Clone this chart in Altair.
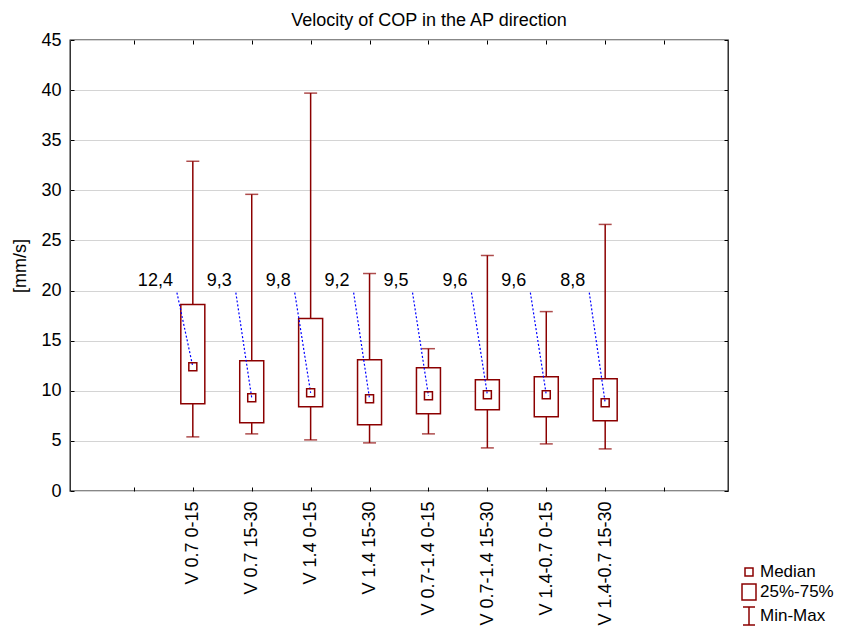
import altair as alt
import pandas as pd

# ---- data ----
categories = ["V 0.7 0-15", "V 0.7 15-30", "V 1.4 0-15", "V 1.4 15-30",
              "V 0.7-1.4 0-15", "V 0.7-1.4 15-30", "V 1.4-0.7 0-15", "V 1.4-0.7 15-30"]
medians = [12.4, 9.3, 9.8, 9.2, 9.5, 9.6, 9.6, 8.8]
q1 = [8.7, 6.8, 8.4, 6.6, 7.7, 8.1, 7.4, 7.0]
q3 = [18.6, 13.0, 17.2, 13.1, 12.3, 11.1, 11.4, 11.2]
mins = [5.4, 5.7, 5.1, 4.8, 5.7, 4.3, 4.7, 4.2]
maxs = [32.9, 29.6, 39.7, 21.7, 14.2, 23.5, 17.9, 26.6]
median_labels = ["12,4", "9,3", "9,8", "9,2", "9,5", "9,6", "9,6", "8,8"]
legend_items = ["Median", "25%-75%", "Min-Max"]
y_ticks = [0, 5, 10, 15, 20, 25, 30, 35, 40, 45]
x_ticks = list(range(10))

df = pd.DataFrame({
    "cat": categories,
    "pos": list(range(1, len(categories) + 1)),
    "median": medians,
    "q1": q1,
    "q3": q3,
    "min": mins,
    "max": maxs,
    "lab": median_labels,
})
legend_df = pd.DataFrame({"item": legend_items})

DR = "#8B0000"
FONT = "Liberation Sans"
FS = 18

tick_label_array = "[" + ",".join(["''"] + ["'" + c + "'" for c in categories] + ["''"]) + "]"

xscale = alt.Scale(domain=[-1, 10], nice=False, zero=False)
yscale = alt.Scale(domain=[0, 45], nice=False, zero=True)

main_x_axis = alt.Axis(values=x_ticks, labelExpr=tick_label_array + "[datum.value]",
                       labelAngle=270, labelFontSize=FS, labelFont=FONT, labelColor="black",
                       tickSize=4, tickColor="black", tickWidth=1, offset=-4, labelPadding=10,
                       domain=False, grid=False, title=None, labelLimit=300)
main_y_axis = alt.Axis(values=y_ticks, labelFontSize=FS, labelFont=FONT, labelColor="black",
                       tickSize=4, tickColor="black", tickWidth=1, offset=-4, labelPadding=9,
                       domain=False, grid=False, title="[mm/s]", titleFontSize=FS,
                       titleFont=FONT, titleFontWeight="normal", titleColor="black",
                       titlePadding=11)
top_x_axis = alt.Axis(orient="top", values=x_ticks, labels=False, tickSize=4,
                      tickColor="black", tickWidth=1, offset=-4, domain=False,
                      grid=False, title=None)
right_y_axis = alt.Axis(orient="right", values=y_ticks, labels=False, tickSize=4,
                        tickColor="black", tickWidth=1, offset=-4, domain=False,
                        grid=True, gridColor="#d4d4d4", gridWidth=1, title=None)

base = alt.Chart(df).transform_calculate(
    lx="datum.pos - 0.27", ly="19.8", ty="20.45"
)

whiskers = base.mark_rule(color=DR, strokeWidth=1.5).encode(
    x=alt.X("pos:Q", scale=xscale, axis=main_x_axis),
    y=alt.Y("min:Q", scale=yscale, axis=main_y_axis),
    y2="max:Q",
)

caps = base.transform_fold(["min", "max"], as_=["k", "v"]).mark_tick(
    orient="horizontal", size=13, thickness=1.5, color=DR
).encode(
    x=alt.X("pos:Q", scale=xscale, axis=None),
    y=alt.Y("v:Q", scale=yscale, axis=None),
)

boxes = base.mark_bar(size=24, fill="white", stroke=DR, strokeWidth=1.5).encode(
    x=alt.X("pos:Q", scale=xscale, axis=top_x_axis),
    y=alt.Y("q1:Q", scale=yscale, axis=right_y_axis),
    y2="q3:Q",
)

med = base.mark_point(shape="square", size=64, filled=False, color=DR, strokeWidth=1.5,
                      opacity=1).encode(
    x=alt.X("pos:Q", scale=xscale, axis=None),
    y=alt.Y("median:Q", scale=yscale, axis=None),
)

leader = base.mark_rule(color="blue", strokeWidth=1.2, strokeDash=[2, 2]).encode(
    x=alt.X("lx:Q", scale=xscale, axis=None),
    x2="pos:Q",
    y=alt.Y("ly:Q", scale=yscale, axis=None),
    y2="median:Q",
)

labels = base.mark_text(
    align="right", baseline="alphabetic", dx=-4, fontSize=FS, font=FONT, color="black"
).encode(
    x=alt.X("lx:Q", scale=xscale, axis=None),
    y=alt.Y("ty:Q", scale=yscale, axis=None),
    text="lab:N",
)

legend_paths = [
    "M-0.4,-0.4H0.4V0.4H-0.4Z",
    "M-0.7,-0.8H0.7V0.8H-0.7Z",
    "M-0.6,-0.9H0.6M0,-0.9V0.9M-0.6,0.9H0.6",
]

legend_layer = alt.Chart(legend_df).transform_calculate(
    px="1", py="10"
).mark_point(opacity=0, filled=False, color=DR).encode(
    x=alt.X("px:Q", scale=xscale, axis=None),
    y=alt.Y("py:Q", scale=yscale, axis=None),
    shape=alt.Shape("item:N", scale=alt.Scale(domain=legend_items, range=legend_paths),
                    legend=alt.Legend(title=None, orient="none", legendX=668, legendY=521,
                                      symbolSize=400, symbolStrokeWidth=1.5,
                                      symbolStrokeColor=DR, symbolFillColor="transparent",
                                      symbolOpacity=1, labelFontSize=17, labelFont=FONT,
                                      labelColor="black", labelOffset=0, rowPadding=1,
                                      labelLimit=200))
)

chart = alt.layer(whiskers, caps, boxes, leader, med, labels, legend_layer).resolve_axis(
    x="independent", y="independent"
).properties(
    width=658, height=451,
    autosize=alt.AutoSizeParams(type="none"),
    padding={"left": 62, "top": 32, "right": 106, "bottom": 136},
    title=alt.TitleParams("Velocity of COP in the AP direction", fontSize=FS, font=FONT,
                          fontWeight="normal", color="black", anchor="middle",
                          frame="group", dx=30, offset=1),
).configure_view(stroke="#111111", strokeWidth=1.3)

chart.save("out.html", embed_options={"renderer": "svg", "actions": False})
